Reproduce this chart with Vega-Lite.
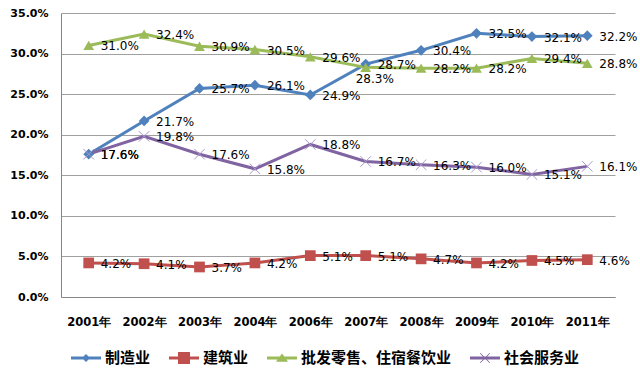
{
  "$schema": "https://vega.github.io/schema/vega-lite/v6.json",
  "autosize": {"type": "none"},
  "width": 554,
  "height": 284,
  "padding": {"left": 61, "top": 13, "right": 25, "bottom": 84},
  "background": "white",
  "config": {
    "view": {"stroke": null},
    "font": "DejaVu Sans"
  },
  "data": {
    "values": [
      {"year": "2001年", "series": "制造业", "value": 0.176},
      {"year": "2002年", "series": "制造业", "value": 0.217},
      {"year": "2003年", "series": "制造业", "value": 0.257},
      {"year": "2004年", "series": "制造业", "value": 0.261},
      {"year": "2006年", "series": "制造业", "value": 0.249},
      {"year": "2007年", "series": "制造业", "value": 0.287},
      {"year": "2008年", "series": "制造业", "value": 0.304},
      {"year": "2009年", "series": "制造业", "value": 0.325},
      {"year": "2010年", "series": "制造业", "value": 0.321},
      {"year": "2011年", "series": "制造业", "value": 0.322},
      {"year": "2001年", "series": "建筑业", "value": 0.042},
      {"year": "2002年", "series": "建筑业", "value": 0.041},
      {"year": "2003年", "series": "建筑业", "value": 0.037},
      {"year": "2004年", "series": "建筑业", "value": 0.042},
      {"year": "2006年", "series": "建筑业", "value": 0.051},
      {"year": "2007年", "series": "建筑业", "value": 0.051},
      {"year": "2008年", "series": "建筑业", "value": 0.047},
      {"year": "2009年", "series": "建筑业", "value": 0.042},
      {"year": "2010年", "series": "建筑业", "value": 0.045},
      {"year": "2011年", "series": "建筑业", "value": 0.046},
      {"year": "2001年", "series": "批发零售、住宿餐饮业", "value": 0.310},
      {"year": "2002年", "series": "批发零售、住宿餐饮业", "value": 0.324},
      {"year": "2003年", "series": "批发零售、住宿餐饮业", "value": 0.309},
      {"year": "2004年", "series": "批发零售、住宿餐饮业", "value": 0.305},
      {"year": "2006年", "series": "批发零售、住宿餐饮业", "value": 0.296},
      {"year": "2007年", "series": "批发零售、住宿餐饮业", "value": 0.283},
      {"year": "2008年", "series": "批发零售、住宿餐饮业", "value": 0.282},
      {"year": "2009年", "series": "批发零售、住宿餐饮业", "value": 0.282},
      {"year": "2010年", "series": "批发零售、住宿餐饮业", "value": 0.294},
      {"year": "2011年", "series": "批发零售、住宿餐饮业", "value": 0.288},
      {"year": "2001年", "series": "社会服务业", "value": 0.176},
      {"year": "2002年", "series": "社会服务业", "value": 0.198},
      {"year": "2003年", "series": "社会服务业", "value": 0.176},
      {"year": "2004年", "series": "社会服务业", "value": 0.158},
      {"year": "2006年", "series": "社会服务业", "value": 0.188},
      {"year": "2007年", "series": "社会服务业", "value": 0.167},
      {"year": "2008年", "series": "社会服务业", "value": 0.163},
      {"year": "2009年", "series": "社会服务业", "value": 0.160},
      {"year": "2010年", "series": "社会服务业", "value": 0.151},
      {"year": "2011年", "series": "社会服务业", "value": 0.161}
    ]
  },
  "encoding": {
    "x": {
      "field": "year",
      "type": "ordinal",
      "sort": null,
      "scale": {"type": "point", "padding": 0.5},
      "axis": {
        "title": null,
        "labelAngle": 0,
        "ticks": false,
        "domainColor": "#868686",
        "labelFont": "DejaVu Sans",
        "labelFontWeight": "bold",
        "labelFontSize": 11.5,
        "labelColor": "#000000",
        "labelPadding": 19
      }
    },
    "y": {
      "field": "value",
      "type": "quantitative",
      "scale": {"domain": [0, 0.35], "nice": false},
      "axis": {
        "title": null,
        "format": ".1%",
        "values": [0, 0.05, 0.1, 0.15, 0.2, 0.25, 0.3, 0.35],
        "ticks": false,
        "grid": true,
        "gridColor": "#a0a0a0",
        "domainColor": "#868686",
        "labelFont": "DejaVu Sans",
        "labelFontWeight": "bold",
        "labelFontSize": 11,
        "labelColor": "#000000",
        "labelPadding": 13
      }
    },
    "color": {
      "field": "series",
      "type": "nominal",
      "scale": {
        "domain": ["制造业", "建筑业", "批发零售、住宿餐饮业", "社会服务业"],
        "range": ["#4F81BD", "#C0504D", "#9BBB59", "#8064A2"]
      },
      "legend": {
        "title": null,
        "orient": "none",
        "legendX": 10,
        "legendY": 330,
        "direction": "horizontal",
        "columns": 4,
        "padding": 0,
        "symbolSize": 900,
        "symbolStrokeWidth": 0,
        "labelOffset": 4,
        "columnPadding": 18,
        "labelFont": "Noto Sans CJK SC",
        "labelFontSize": 15,
        "labelFontWeight": "bold",
        "labelColor": "#000000",
        "encode": {
          "symbols": {
            "update": {
              "shape": {"signal": "datum.value === '制造业' ? 'M-1,-0.1L-0.17,-0.1L0,-0.27L0.17,-0.1L1,-0.1L1,0.1L0.17,0.1L0,0.27L-0.17,0.1L-1,0.1Z' : datum.value === '建筑业' ? 'M-1,-0.1L-0.4,-0.1L-0.4,-0.4L0.4,-0.4L0.4,-0.1L1,-0.1L1,0.1L0.4,0.1L0.4,0.4L-0.4,0.4L-0.4,0.1L-1,0.1Z' : datum.value === '批发零售、住宿餐饮业' ? 'M-1,-0.1L-0.15,-0.1L0,-0.3L0.15,-0.1L1,-0.1L1,0.1L0.3,0.1L0.4,0.25L-0.4,0.25L-0.3,0.1L-1,0.1Z' : 'M-1,-0.1L1,-0.1L1,0.1L-1,0.1Z M-0.34,-0.3L-0.3,-0.34L0.34,0.3L0.3,0.34Z M0.3,-0.34L0.34,-0.3L-0.3,0.34L-0.34,0.3Z'"},
              "fill": {"scale": "color", "field": "value"},
              "fillOpacity": {"value": 1},
              "opacity": {"value": 1},
              "strokeWidth": {"value": 0}
            }
          }
        }
      }
    }
  },
  "layer": [
    {
      "mark": {"type": "line", "strokeWidth": 3}
    },
    {
      "transform": [{"filter": "datum.series !== '社会服务业'"}],
      "mark": {"type": "point", "filled": true, "opacity": 1, "size": 115},
      "encoding": {
        "shape": {
          "field": "series",
          "type": "nominal",
          "scale": {
            "domain": ["制造业", "建筑业", "批发零售、住宿餐饮业"],
            "range": ["diamond", "square", "triangle-up"]
          },
          "legend": null
        }
      }
    },
    {
      "transform": [{"filter": "datum.series === '社会服务业'"}],
      "mark": {
        "type": "point",
        "filled": false,
        "shape": "M-1,-1L1,1M-1,1L1,-1",
        "size": 110,
        "strokeWidth": 1,
        "opacity": 1,
        "color": "#A897CB"
      },
      "encoding": {"color": {"value": "#A897CB"}}
    },
    {
      "transform": [{"filter": "!(datum.series === '批发零售、住宿餐饮业' && datum.year === '2007年')"}],
      "mark": {
        "type": "text",
        "align": "left",
        "baseline": "middle",
        "dx": 12,
        "dy": 1,
        "font": "DejaVu Sans",
        "fontSize": 12,
        "color": "#000000"
      },
      "encoding": {
        "text": {"field": "value", "type": "quantitative", "format": ".1%"},
        "color": {"value": "#000000"}
      }
    },
    {
      "transform": [{"filter": "datum.series === '批发零售、住宿餐饮业' && datum.year === '2007年'"}],
      "mark": {
        "type": "text",
        "align": "left",
        "baseline": "middle",
        "dx": -10,
        "dy": 12,
        "font": "DejaVu Sans",
        "fontSize": 12,
        "color": "#000000"
      },
      "encoding": {
        "text": {"field": "value", "type": "quantitative", "format": ".1%"},
        "color": {"value": "#000000"}
      }
    }
  ]
}
